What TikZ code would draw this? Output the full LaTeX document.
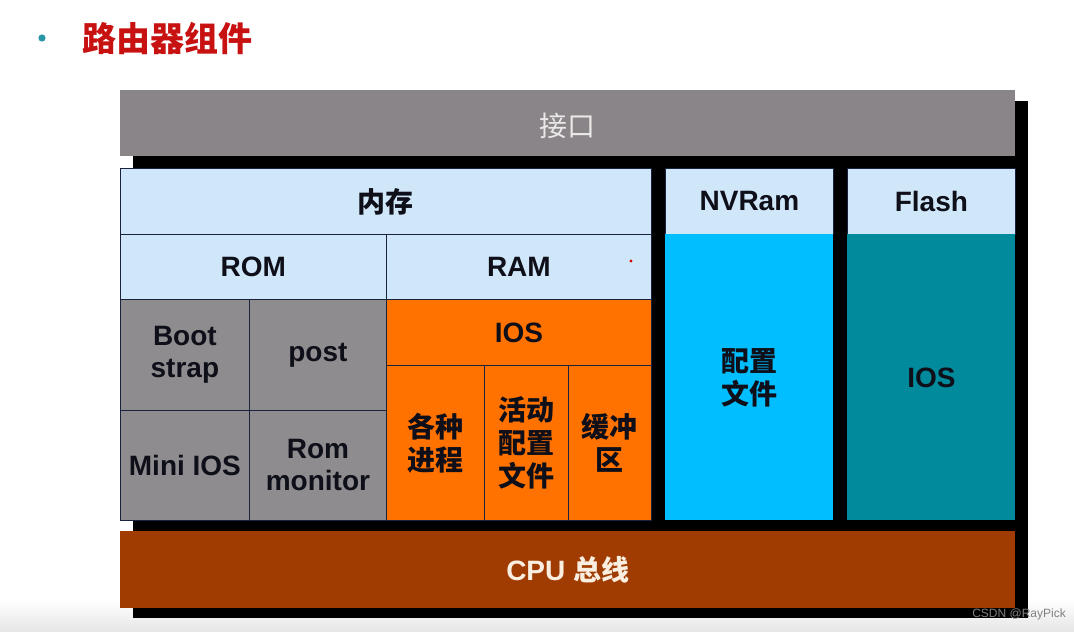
\documentclass[tikz,border=0pt]{standalone}
\usepackage{fontspec}
\setmainfont{Liberation Sans}
\newfontfamily\cjk{Noto Sans CJK SC}
\definecolor{titlered}{RGB}{200,18,18}
\definecolor{bullet}{RGB}{40,150,165}
\definecolor{bargray}{RGB}{138,133,137}
\definecolor{lightblue}{RGB}{208,231,250}
\definecolor{cellgray}{RGB}{142,140,142}
\definecolor{iosorange}{RGB}{255,114,0}
\definecolor{nvblue}{RGB}{0,190,255}
\definecolor{flteal}{RGB}{0,138,155}
\definecolor{cpubrown}{RGB}{160,60,2}
\definecolor{linec}{RGB}{25,35,60}
\definecolor{txt}{RGB}{15,15,25}
\definecolor{lighttxt}{RGB}{235,232,232}
\definecolor{cputxt}{RGB}{250,238,225}
\newcommand\lbl{\fontsize{28}{32}\selectfont\bfseries}
\newcommand\zh{\cjk\bfseries}
\tikzset{
  cell/.style={draw=linec, line width=0.8pt, anchor=north west, inner sep=0pt,
    align=center, font=\lbl, text=txt},
  bar/.style={anchor=north west, inner sep=0pt, align=center, font=\lbl}
}
\begin{document}
\begin{tikzpicture}[x=1pt,y=-1pt]
\useasboundingbox (0,0) rectangle (1074,632);
\fill[white] (0,0) rectangle (1074,632);
\shade[top color=white, bottom color=black!10] (0,600) rectangle (1074,632);
% title
\fill[bullet] (42,38) circle (3.6);
\node[anchor=west, inner sep=0pt, text=titlered, font=\fontsize{34}{38}\selectfont\zh] (title) at (82,38) {路由器组件};
% shadow
\fill[black] (133,101) rectangle (1028,618);
% top bar
\node[bar, fill=bargray, text=lighttxt, minimum width=895pt, minimum height=66pt, text depth=0pt] (jiekou) at (120,90) {\raisebox{-4pt}{\cjk\mdseries 接口}};
% memory
\node[cell, fill=lightblue, minimum width=531pt, minimum height=66pt] (neicun) at (120,168) {\zh 内存};
\node[cell, fill=lightblue, minimum width=266pt, minimum height=65pt] (rom) at (120,234) {ROM};
\node[cell, fill=lightblue, minimum width=265pt, minimum height=65pt] (ram) at (386,234) {RAM};
\node[cell, fill=cellgray, minimum width=129pt, minimum height=111pt] (boot) at (120,299) {Boot\\strap};
\node[cell, fill=cellgray, minimum width=137pt, minimum height=111pt] (post) at (249,299) {post};
\node[cell, fill=cellgray, minimum width=129pt, minimum height=110pt] (mini) at (120,410) {Mini IOS};
\node[cell, fill=cellgray, minimum width=137pt, minimum height=110pt] (rommon) at (249,410) {Rom\\monitor};
\node[cell, fill=iosorange, minimum width=265pt, minimum height=66pt] (ios) at (386,299) {IOS};
\node[cell, fill=iosorange, minimum width=98pt, minimum height=155pt, font=\fontsize{28}{33}\selectfont\zh] (proc) at (386,365) {各种\\进程};
\node[cell, fill=iosorange, minimum width=84pt, minimum height=155pt, font=\fontsize{28}{33}\selectfont\zh] (active) at (484,365) {活动\\配置\\文件};
\node[cell, fill=iosorange, minimum width=83pt, minimum height=155pt, font=\fontsize{28}{33}\selectfont\zh] (buffer) at (568,365) {缓冲\\区};
% NVRam
\node[cell, fill=lightblue, minimum width=168pt, minimum height=66pt] (nvhead) at (665,168) {NVRam};
\node[cell, fill=nvblue, draw=none, minimum width=168pt, minimum height=286pt, font=\fontsize{28}{33}\selectfont\zh] (nvbody) at (665,234) {配置\\文件};
% Flash
\node[cell, fill=lightblue, minimum width=168pt, minimum height=66pt] (flhead) at (847,168) {Flash};
\node[cell, fill=flteal, draw=none, minimum width=168pt, minimum height=286pt] (flbody) at (847,234) {IOS};
% CPU bus
\node[bar, fill=cpubrown, text=cputxt, minimum width=895pt, minimum height=77pt] (cpu) at (120,531) {CPU {\zh 总线}};
% small red mark
\fill[red!85!black] (631,261) circle (1.6);
% watermark
\node[anchor=east, inner sep=0pt, text=black!50, font=\fontsize{12}{14}\selectfont] (wm) at (1066,614) {CSDN @RayPick};
\end{tikzpicture}
\end{document}
